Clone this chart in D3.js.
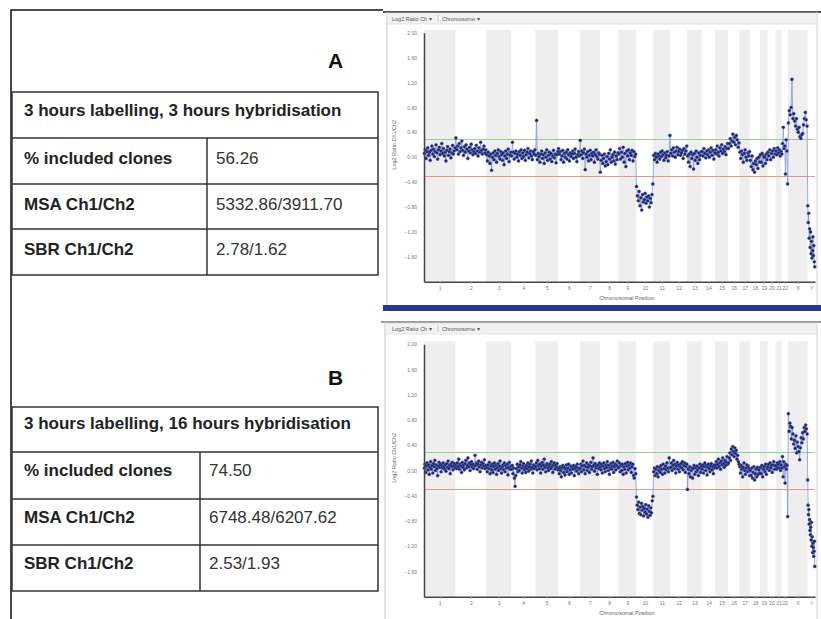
<!DOCTYPE html>
<html>
<head>
<meta charset="utf-8">
<script src="https://cdn.jsdelivr.net/npm/d3@7"></script>
<style>
  body { margin: 0; background: #fff; }
  svg { display: block; }
  text { font-family: "Liberation Sans", Arial, sans-serif; }
</style>
</head>
<body>
<svg id="fig" width="821" height="619"></svg>
<script>
// chromosomes along the x axis and their lengths (Mb)
const chromosomes = ['1','2','3','4','5','6','7','8','9','10','11','12','13','14','15','16','17','18','19','20','21','22','X','Y'];
const chromLengthMb = [249,243,198,191,181,171,159,146,141,136,135,133,115,107,102,90,83,80,59,64,47,51,155,59];
const yTickValues = [2.0, 1.6, 1.2, 0.8, 0.4, 0.0, -0.4, -0.8, -1.2, -1.6];
const gainLine = 0.3;
const lossLine = -0.3;

// table contents
const rowLabels = ['% included clones', 'MSA Ch1/Ch2', 'SBR Ch1/Ch2'];
const titleA = '3 hours labelling, 3 hours hybridisation';
const valuesA = ['56.26', '5332.86/3911.70', '2.78/1.62'];
const titleB = '3 hours labelling, 16 hours hybridisation';
const valuesB = ['74.50', '6748.48/6207.62', '2.53/1.93'];

// log2 ratio per clone, one list per chromosome
const log2RatioA = [
  [0.06,0.12,-0.02,0.09,0.15,0.03,0.08,-0.05,0.11,0.18,0.05,0.13,0.01,0.09,0.2,0.07,-0.03,0.12,0.16,0.04,0.1,0.22,0.06,0.14,0.02,0.08,-0.06,0.11,0.17,0.03,0.09,0.13,-0.01,0.07,0.19,0.05,0.1,0.15],
  [0.31,0.12,0.18,0.05,0.22,0.09,0.15,0.26,0.11,0.03,0.17,0.08,0.2,0.13,-0.02,0.1,0.16,0.07,0.21,0.12,0.04,0.09,0.14,0.06,0.19,0.1,0.02,0.15,0.08,0.24,0.11,0.05,0.13,0.18,0.07,0.12],
  [0.04,-0.06,0.08,0.02,-0.1,0.05,-0.21,0.0,0.07,-0.04,0.1,0.03,-0.08,0.06,0.12,0.01,-0.03,0.09,0.04,-0.05,0.07,-0.12,0.02,0.1,-0.02,0.05,0.13,-0.07,0.03,0.08],
  [0.02,0.24,0.08,-0.03,0.06,0.1,0.0,0.05,-0.06,0.09,0.03,0.12,-0.02,0.07,0.01,0.11,-0.05,0.04,0.08,0.14,-0.01,0.06,0.1,0.02,-0.04,0.09,0.05,0.12],
  [0.03,0.59,-0.04,0.06,0.01,-0.08,0.05,0.1,-0.02,0.04,-0.1,0.07,0.0,0.12,-0.05,0.03,0.08,-0.03,0.06,-0.07,0.02,0.11,-0.01,0.05,-0.09,0.04,0.09],
  [0.14,0.05,0.09,-0.04,0.02,0.11,-0.08,0.06,0.0,0.08,-0.03,0.12,0.04,-0.06,0.07,0.01,0.05,0.1,-0.02,0.06,0.13,0.0,-0.07,0.04,0.09,0.02],
  [0.27,0.04,0.1,-0.02,0.07,0.13,-0.2,0.05,0.0,0.09,-0.06,0.03,0.11,-0.04,0.06,0.02,0.08,-0.08,0.04,0.12,0.01,-0.03,0.07,0.05],
  [-0.24,-0.05,0.03,-0.1,-0.02,0.05,-0.14,-0.07,0.01,-0.12,0.06,-0.03,0.12,-0.08,0.0,0.04,-0.06,0.08,-0.11,0.02,-0.04,0.07],
  [0.05,0.14,-0.03,0.08,0.0,0.16,-0.08,0.06,-0.15,0.1,0.02,0.12,-0.04,0.07,0.03,0.11,-0.06,0.09,0.01,0.05],
  [-0.47,-0.62,-0.7,-0.55,-0.78,-0.65,-0.85,-0.6,-0.72,-0.68,-0.58,-0.74,-0.64,-0.7,-0.62,-0.8,-0.66,-0.73,-0.6,-0.43],
  [0.03,-0.04,0.06,0.0,-0.08,0.05,0.02,-0.03,0.08,0.01,0.1,0.04,-0.05,0.07,-0.01,0.03,0.09,-0.06,0.02,0.35],
  [0.06,0.12,0.02,0.15,0.08,0.0,0.1,0.16,0.04,0.09,0.13,0.03,0.07,0.11,-0.02,0.14,0.05,0.1,0.18],
  [0.02,-0.08,0.05,-0.15,0.08,-0.02,0.04,-0.19,0.06,-0.05,0.1,0.0,-0.1,0.07,-0.04,0.03,0.09],
  [0.09,0.02,0.14,0.06,-0.01,0.1,0.04,0.12,0.0,0.08,0.15,0.03,0.11,-0.03,0.07],
  [0.12,0.05,0.18,0.08,0.02,0.15,0.1,0.2,0.06,0.13,0.09,0.17,0.04,0.14,0.22],
  [0.14,0.22,0.3,0.18,0.26,0.37,0.24,0.32,0.2,0.35,0.28,0.16,0.23],
  [0.08,-0.02,0.1,0.04,-0.08,0.06,0.12,0.0,-0.05,0.07,0.02,0.09],
  [-0.05,-0.15,0.02,-0.2,-0.1,-0.24,-0.06,-0.12,-0.02,-0.18,0.0,-0.08],
  [0.04,-0.08,0.06,-0.14,0.02,0.0,-0.1,0.05,-0.04],
  [0.08,0.02,0.12,-0.04,0.06,0.1,0.0,0.14,0.05],
  [0.1,0.04,0.15,0.07,0.12,0.02,0.09],
  [0.05,0.22,0.48,0.14,0.18,-0.27,0.28,0.1,-0.43],
  [0.55,0.75,0.68,0.8,1.25,0.62,0.7,0.58,0.5,0.62,0.45,0.4,0.48,0.33,0.3,0.36,0.38,0.52,0.62,0.72,0.6,0.5],
  [-0.78,-1.05,-0.9,-1.3,-1.15,-1.45,-1.2,-1.55,-1.35,-1.62,-1.5,-1.28,-1.58,-1.42,-1.68,-1.76]
];

const log2RatioB = [
  [0.04,0.1,-0.03,0.07,0.12,0.01,0.09,-0.06,0.05,0.14,0.02,0.08,-0.04,0.11,0.06,0.16,0.0,0.09,0.03,-0.08,0.07,0.13,0.05,0.1,-0.02,0.08,0.04,0.12,0.06,0.02,0.09,-0.01,0.11,0.05,0.15,0.03,0.08,-0.05,0.1,0.06,0.13,0.01,0.07,0.11,0.04],
  [0.08,0.03,0.12,0.06,0.18,0.02,0.1,0.07,-0.03,0.13,0.05,0.09,0.01,0.11,0.16,0.04,0.08,0.2,0.06,0.12,0.0,0.09,0.14,0.05,0.1,0.03,0.07,0.24,0.08,0.12,0.02,0.1,0.15,0.06,-0.02,0.09,0.13,0.04,0.11,0.07,0.17,0.03,0.08],
  [0.05,-0.02,0.09,0.03,0.13,-0.05,0.07,0.01,0.1,-0.03,0.06,0.12,0.02,0.08,-0.06,0.04,0.11,0.0,0.07,0.15,0.03,-0.04,0.06,0.09,0.01,0.12,-0.02,0.08,0.04,0.1,-0.07,0.05,0.13,0.02,0.07],
  [0.02,0.08,-0.05,0.04,-0.12,-0.25,-0.08,0.03,0.1,-0.02,0.06,0.0,0.09,0.14,0.04,-0.04,0.07,0.11,0.01,0.05,-0.03,0.08,0.03,0.12,-0.01,0.06,0.1,0.02,0.15,0.05,-0.04,0.09,0.03,0.07],
  [0.06,0.12,0.01,0.16,0.08,0.03,0.1,-0.04,0.07,0.13,0.02,0.09,0.18,0.05,-0.02,0.08,0.11,0.04,0.0,0.07,0.1,0.03,0.14,0.06,-0.03,0.09,0.12,0.02,0.08,0.05,0.11,0.01],
  [0.03,-0.05,0.06,0.0,-0.1,0.04,0.08,-0.03,0.05,-0.07,0.02,0.09,-0.02,0.04,0.1,-0.06,0.01,0.07,-0.04,0.05,0.02,0.08,-0.08,0.03,0.06,-0.01,0.1,0.04,-0.05,0.02],
  [0.04,0.1,-0.02,0.07,0.15,0.01,0.08,-0.05,0.06,0.12,0.0,0.05,0.09,-0.03,0.07,0.13,0.02,0.06,0.2,0.08,-0.01,0.11,0.04,0.07,-0.06,0.09,0.03,0.12],
  [0.06,0.01,0.1,-0.04,0.07,0.12,0.03,-0.02,0.09,0.05,0.14,0.0,0.08,-0.06,0.04,0.11,0.02,0.07,0.13,-0.03,0.06,0.1,0.01,0.08,0.15,0.04],
  [0.05,0.12,-0.02,0.08,0.0,0.1,-0.06,0.06,0.02,0.11,-0.04,0.07,0.13,0.01,0.09,0.04,0.12,-0.03,0.06,0.1,-0.08,-0.12,0.03,-0.05],
  [-0.42,-0.55,-0.62,-0.5,-0.68,-0.58,-0.7,-0.52,-0.63,-0.57,-0.72,-0.6,-0.66,-0.54,-0.69,-0.61,-0.74,-0.56,-0.65,-0.71,-0.59,-0.67,-0.48,-0.41],
  [-0.02,0.04,-0.08,0.02,-0.05,0.06,-0.1,0.0,0.05,-0.03,0.08,0.02,-0.06,0.1,0.03,-0.04,0.07,0.01,0.12,0.04,-0.02,0.2,0.04],
  [0.05,0.12,0.0,0.08,0.16,0.03,0.1,-0.04,0.07,0.13,0.02,0.09,-0.02,0.06,0.11,0.04,0.14,0.01,0.08,0.12,-0.03,0.06,0.1],
  [-0.3,0.02,-0.05,0.06,-0.1,0.0,0.04,-0.12,0.03,0.08,-0.06,0.05,-0.02,0.07,0.01,-0.08,0.04,0.1,-0.03,0.06],
  [0.02,0.09,-0.04,0.06,0.12,0.0,0.08,-0.07,0.05,0.1,0.03,-0.02,0.07,0.11,0.01,0.06,-0.05,0.09,0.04],
  [0.08,0.14,0.04,0.1,0.18,0.06,0.12,0.02,0.15,0.09,0.2,0.11,0.05,0.16,0.08,0.13,0.22,0.1],
  [0.12,0.2,0.28,0.16,0.34,0.25,0.38,0.3,0.22,0.36,0.27,0.32,0.18,0.24,0.14,0.1],
  [0.06,-0.04,0.08,0.02,-0.1,0.05,0.12,0.0,-0.06,0.04,0.09,-0.02,0.07,0.03,-0.08],
  [0.0,-0.08,0.04,-0.12,-0.03,0.06,-0.15,-0.05,0.02,-0.1,0.05,-0.06,0.01,-0.04],
  [0.05,-0.05,0.08,-0.1,0.02,0.06,-0.02,0.1,-0.06,0.03],
  [0.06,0.1,0.0,0.12,0.04,0.08,-0.03,0.09,0.14,0.02,0.07],
  [0.08,0.02,0.12,0.05,0.1,0.04,0.14,0.0,0.09],
  [0.04,0.22,-0.1,0.14,0.06,-0.2,0.1,0.02,0.08,-0.73],
  [0.9,0.62,0.75,0.7,0.5,0.68,0.58,0.42,0.48,0.35,0.55,0.28,0.45,0.38,0.3,0.17,0.36,0.52,0.44,0.6,0.5,0.68,0.62,0.72,0.66,0.58],
  [-0.15,-0.55,-0.7,-0.62,-0.85,-0.78,-0.95,-1.02,-0.9,-1.1,-0.82,-1.2,-1.05,-1.3,-1.15,-1.22,-1.36,-1.28,-1.12,-1.52]
];

const svg = d3.select('#fig');
const ink = '#222';

// left side frame
svg.append('path')
  .attr('d', 'M11,619V10H383')
  .attr('fill', 'none').attr('stroke', '#111').attr('stroke-width', 1.5);

function drawTable(opt) {
  const g = svg.append('g');
  g.append('text').attr('x', 328).attr('y', opt.letterY)
    .attr('font-size', 21).attr('font-weight', 'bold').attr('fill', '#111').text(opt.letter);

  const rows = opt.rowLines;
  g.append('rect')
    .attr('x', 12).attr('y', rows[0]).attr('width', 366).attr('height', rows[4] - rows[0])
    .attr('fill', 'none').attr('stroke', '#333').attr('stroke-width', 1.5);
  g.selectAll('line.row').data(rows.slice(1, 4)).enter().append('line')
    .attr('x1', 12).attr('x2', 378).attr('y1', d => d).attr('y2', d => d)
    .attr('stroke', '#333').attr('stroke-width', 1.5);
  g.append('line')
    .attr('x1', opt.colX).attr('x2', opt.colX).attr('y1', rows[1]).attr('y2', rows[4])
    .attr('stroke', '#333').attr('stroke-width', 1.5);

  g.append('text').attr('x', 24).attr('y', rows[0] + opt.titleOffset)
    .attr('font-size', 17).attr('font-weight', 'bold').attr('fill', ink).text(opt.title);
  rowLabels.forEach((lab, i) => {
    const yy = (rows[i + 1] + rows[i + 2]) / 2 + opt.rowOffset;
    g.append('text').attr('x', 24).attr('y', yy)
      .attr('font-size', 17).attr('font-weight', 'bold').attr('fill', ink).text(lab);
    g.append('text').attr('x', opt.colX + 9).attr('y', yy)
      .attr('font-size', 17).attr('fill', '#333').text(opt.values[i]);
  });
}

drawTable({ letter: 'A', letterY: 68, rowLines: [92, 138, 184, 229, 275], colX: 207, title: titleA, values: valuesA, titleOffset: 24, rowOffset: 3 });
drawTable({ letter: 'B', letterY: 385, rowLines: [407, 452, 499, 545, 591], colX: 200, title: titleB, values: valuesB, titleOffset: 22, rowOffset: 0.5 });

const starts = [0].concat(Array.from(d3.cumsum(chromLengthMb)));
const totalMb = starts[starts.length - 1];

function drawPlot(data, box) {
  const g = svg.append('g');
  const x = d3.scaleLinear().domain([0, totalMb]).range([424, 815]);
  const y = d3.scaleLinear().domain([-2, 2]).range([box.plotBottom, box.plotTop]);

  // window frame and toolbar
  g.append('rect').attr('x', box.left).attr('y', box.top).attr('width', 821 - box.left).attr('height', box.bottom - box.top)
    .attr('fill', '#fff');
  g.append('line').attr('x1', box.left).attr('x2', 821).attr('y1', box.top).attr('y2', box.top)
    .attr('stroke', box.topColor).attr('stroke-width', 2);
  g.append('line').attr('x1', box.left + 4).attr('x2', box.left + 4).attr('y1', box.top).attr('y2', box.bottom)
    .attr('stroke', '#c8c8c8').attr('stroke-width', 1);
  g.append('line').attr('x1', 817).attr('x2', 817).attr('y1', box.top).attr('y2', box.bottom)
    .attr('stroke', '#d0d0d0').attr('stroke-width', 1);
  g.append('rect').attr('x', box.left + 4).attr('y', box.top + 1).attr('width', 813 - box.left).attr('height', 11)
    .attr('fill', '#f2f2f2').attr('stroke', '#d6d6d6').attr('stroke-width', 0.6);
  g.append('text').attr('x', 392).attr('y', box.top + 8.5).attr('font-size', 5.5).attr('fill', '#555').text('Log2 Ratio Ch  \u25be');
  g.append('line').attr('x1', 438).attr('x2', 438).attr('y1', box.top + 3).attr('y2', box.top + 10).attr('stroke', '#ccc');
  g.append('text').attr('x', 442).attr('y', box.top + 8.5).attr('font-size', 5.5).attr('fill', '#555').text('Chromosome  \u25be');
  if (box.blueBar) {
    g.append('rect').attr('x', box.left).attr('y', box.bottom - 6).attr('width', 821 - box.left).attr('height', 6)
      .attr('fill', '#2b378c');
  }

  // alternating chromosome bands
  g.selectAll('rect.band').data(chromosomes.filter((c, i) => i % 2 === 0)).enter().append('rect')
    .attr('class', 'band')
    .attr('x', c => x(starts[chromosomes.indexOf(c)]))
    .attr('width', c => x(starts[chromosomes.indexOf(c) + 1]) - x(starts[chromosomes.indexOf(c)]))
    .attr('y', y(2) - 3).attr('height', y(-2) - y(2) + 3)
    .attr('fill', '#eeeeee');

  // threshold lines
  [[gainLine, '#93d18c'], [lossLine, '#e69595']].forEach(([v, col]) => {
    const yy = Math.round(y(v)) + 0.5;
    g.append('line').attr('x1', x(0)).attr('x2', x(totalMb)).attr('y1', yy).attr('y2', yy)
      .attr('stroke', col).attr('stroke-width', 1);
  });

  // clone positions spread over each chromosome
  const points = [];
  data.forEach((vals, ci) => {
    const len = chromLengthMb[ci];
    vals.forEach((v, i) => points.push({ pos: starts[ci] + len * (i + 0.5) / vals.length, v }));
  });

  g.append('path').datum(points)
    .attr('d', d3.line().x(d => x(d.pos)).y(d => y(d.v)))
    .attr('fill', 'none').attr('stroke', '#8797d4').attr('stroke-width', 0.8);
  g.selectAll('circle').data(points).enter().append('circle')
    .attr('cx', d => x(d.pos)).attr('cy', d => y(d.v)).attr('r', 1.6)
    .attr('fill', '#1e2468').attr('stroke', '#5d6fbf').attr('stroke-width', 0.4);

  // axes
  const centers = chromLengthMb.map((l, i) => starts[i] + l / 2);
  const xAxis = g.append('g').attr('transform', `translate(0,${y(-2)})`)
    .call(d3.axisBottom(x).tickValues(centers).tickFormat((d, i) => chromosomes[i]).tickSize(2).tickSizeOuter(0).tickPadding(3));
  xAxis.select('.domain').attr('stroke', '#444').attr('stroke-width', 1.5);
  xAxis.selectAll('.tick line').attr('stroke', '#999');
  xAxis.selectAll('text').attr('font-size', 5).attr('fill', '#777');

  const yAxis = g.append('g').attr('transform', `translate(${x(0)},0)`)
    .call(d3.axisLeft(y).tickValues(yTickValues).tickFormat(d3.format('.2f')).tickSize(0).tickSizeOuter(0).tickPadding(7));
  yAxis.select('.domain').attr('stroke', '#444').attr('stroke-width', 1.5);
  yAxis.selectAll('text').attr('font-size', 5).attr('fill', '#777');

  g.append('text').attr('transform', `translate(396,${y(0.2)}) rotate(-90)`)
    .attr('text-anchor', 'middle').attr('font-size', 5.5).attr('fill', '#666').text('Log2 Ratio Ch1/Ch2');
  g.append('text').attr('x', 627).attr('y', y(-2) + 18)
    .attr('text-anchor', 'middle').attr('font-size', 5.5).attr('fill', '#666').text('Chromosomal Position');
}

drawPlot(log2RatioA, { left: 383, top: 12, bottom: 311, plotTop: 32.7, plotBottom: 281.7, blueBar: true, topColor: '#555' });
drawPlot(log2RatioB, { left: 381, top: 322, bottom: 619, plotTop: 344.3, plotBottom: 596.7, blueBar: false, topColor: '#999' });
</script>
</body>
</html>
